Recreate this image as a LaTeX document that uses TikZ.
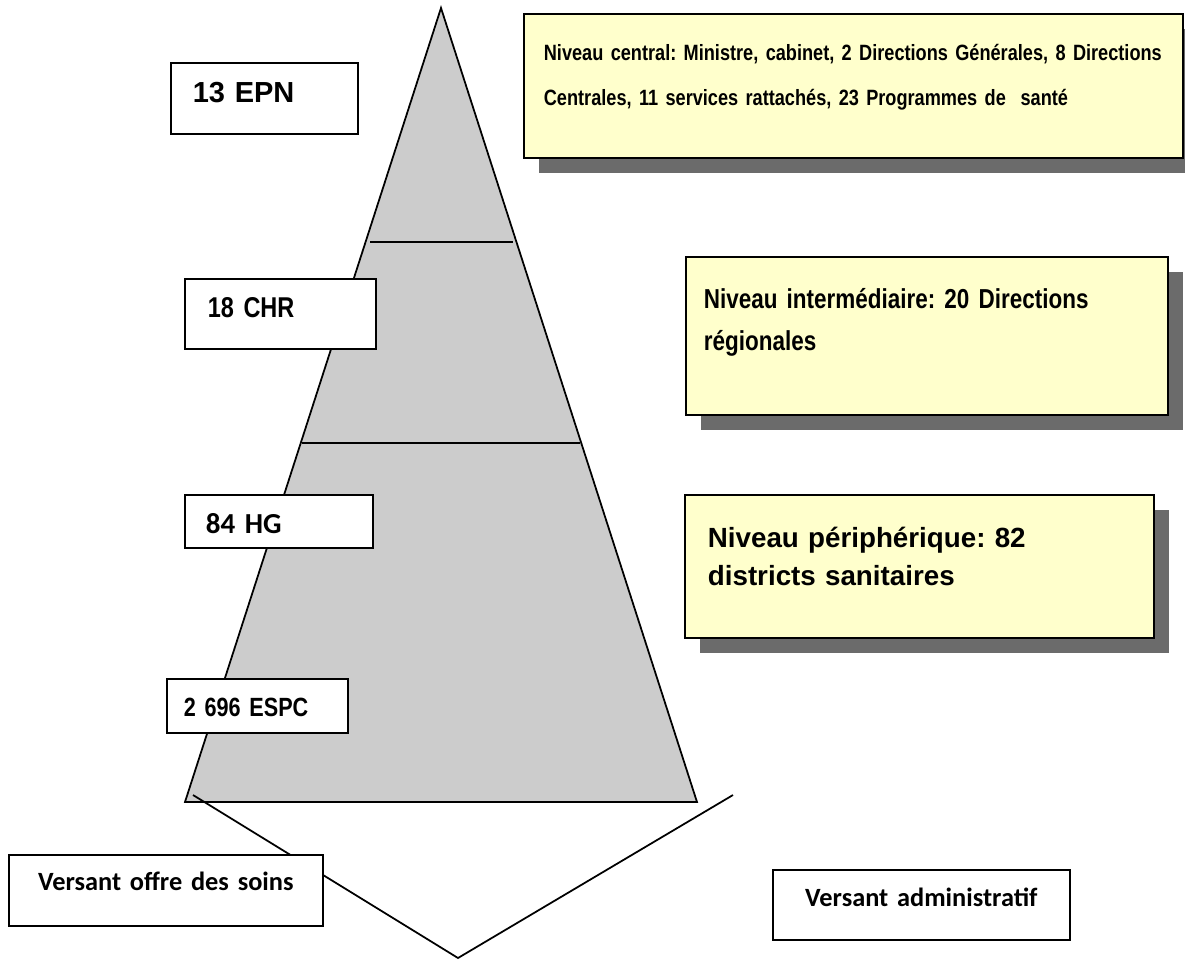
\documentclass[tikz,border=0pt]{standalone}
\usepackage{fontspec}
\setmainfont{Liberation Sans}
\newfontfamily\narrowfont[FakeStretch=0.82,WordSpace=0.82]{Liberation Sans}
\newfontfamily\calibrifont{Carlito}
\usetikzlibrary{shadows}
\definecolor{paleYellow}{HTML}{FFFFCC}
\definecolor{shadowGray}{HTML}{6B6B6B}
\definecolor{pyramidGray}{HTML}{CCCCCC}
\frenchspacing

\begin{document}
\begin{tikzpicture}
[x=0.02cm,y=-0.02cm,
  every node/.style={draw,line width=1pt,fill=white,inner ysep=0pt,
    anchor=north west,align=left},%
  levelBox/.style={fill=paleYellow,
    drop shadow={shadow xshift=0.31cm,shadow yshift=-0.31cm,
      fill=shadowGray,opacity=1}},
  versantBox/.style={align=center,inner xsep=0.2cm,
    font=\calibrifont\bfseries\fontsize{15}{18}\selectfont},
  lineDecorate/.style={-,line width=1pt}]
\useasboundingbox (0,0) rectangle (1185,960);

% pyramid
\coordinate (apex) at (441,8);
\coordinate (baseL) at (185,802);
\coordinate (baseR) at (697,802);
\draw[lineDecorate,fill=pyramidGray] (apex) -- (baseL) -- (baseR) -- cycle;
\foreach \yLine/\xLeft/\xRight in {242/370/513, 443/302/580}
{
  \draw[lineDecorate] (\xLeft,\yLine) -- (\xRight,\yLine);
}

% the two sides
\coordinate (vLeft) at (193,795);
\coordinate (vBottom) at (458,958);
\coordinate (vRight) at (733,795);
\draw[lineDecorate] (vLeft) -- (vBottom) -- (vRight);

% care side
\node[text width=2.86cm,inner xsep=0.44cm,text height=0.8cm,text depth=0.62cm,
  font=\bfseries\fontsize{16.5}{18}\selectfont] (epn) at (170,62) {13 EPN};
\node[text width=2.9cm,inner xsep=0.46cm,text height=0.78cm,text depth=0.62cm,
  font=\narrowfont\bfseries\fontsize{16.3}{18}\selectfont] (chr) at (184,278) {18 CHR};
\node[text width=2.92cm,inner xsep=0.42cm,text height=0.78cm,text depth=0.28cm,
  font=\calibrifont\bfseries\fontsize{16.5}{18}\selectfont] (hg) at (184,494) {84 HG};
\node[text width=2.94cm,inner xsep=0.34cm,text height=0.76cm,text depth=0.32cm,
  font=\narrowfont\bfseries\fontsize{15}{18}\selectfont] (espc) at (166,678) {2 696 ESPC};

% administrative side
\node[levelBox,text width=12.38cm,inner xsep=0.4cm,text height=0.94cm,text depth=1.94cm,
  font=\narrowfont\bfseries\fontsize{12.6}{25.5}\selectfont] (central) at (523,13)
  {Niveau central: Ministre, cabinet, 2 Directions Générales, 8 Directions\\
   Centrales, 11 services rattachés, 23 Programmes de~ santé};
\node[levelBox,text width=8.92cm,inner xsep=0.36cm,text height=1.04cm,text depth=2.12cm,
  font=\narrowfont\bfseries\fontsize{15.6}{23.8}\selectfont] (regional) at (685,256)
  {Niveau intermédiaire: 20 Directions\\régionales};
\node[levelBox,text width=8.46cm,inner xsep=0.46cm,text height=1.06cm,text depth=1.8cm,
  font=\bfseries\fontsize{15.8}{21.5}\selectfont] (district) at (684,494)
  {Niveau périphérique: 82\\districts sanitaires};

% bottom labels
\node[versantBox,text width=5.88cm,text height=0.72cm,text depth=0.7cm]
  (offre) at (8,854) {Versant offre des soins};
\node[versantBox,text width=5.54cm,text height=0.74cm,text depth=0.66cm]
  (admin) at (772,869) {Versant administratif};
\end{tikzpicture}
\end{document}
